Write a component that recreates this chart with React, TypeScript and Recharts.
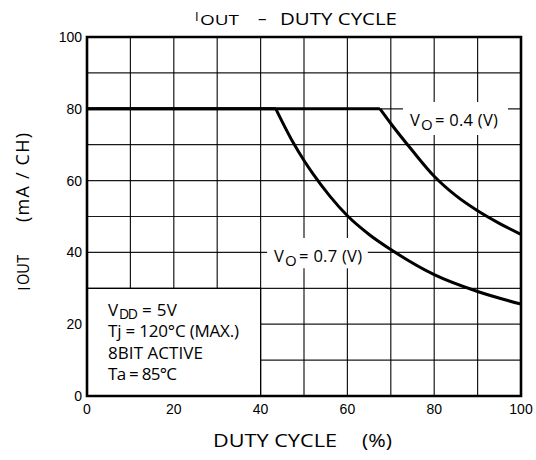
import React from "react";
import {
  LineChart,
  Line,
  XAxis,
  YAxis,
  CartesianGrid,
  ReferenceArea,
} from "recharts";

// Duty cycle (%) vs IOUT (mA/CH)
const vo04Points = [
  { duty: 0, iout: 80 },
  { duty: 67.5, iout: 80 },
  { duty: 70, iout: 75.9 },
  { duty: 75, iout: 68.3 },
  { duty: 80, iout: 61.2 },
  { duty: 85, iout: 55.8 },
  { duty: 90, iout: 51.6 },
  { duty: 95, iout: 48.1 },
  { duty: 100, iout: 45 },
];
const vo07Points = [
  { duty: 0, iout: 80 },
  { duty: 43.5, iout: 80 },
  { duty: 47.5, iout: 70.6 },
  { duty: 50, iout: 65.6 },
  { duty: 52, iout: 62 },
  { duty: 56, iout: 55.6 },
  { duty: 60, iout: 50.2 },
  { duty: 65, iout: 45 },
  { duty: 70, iout: 40.8 },
  { duty: 80, iout: 33.8 },
  { duty: 90, iout: 29.1 },
  { duty: 100, iout: 25.6 },
];
const dutyTicks = [0, 20, 40, 60, 80, 100];
const ioutTicks = [0, 20, 40, 60, 80, 100];
const gridValues = [0, 10, 20, 30, 40, 50, 60, 70, 80, 90, 100];
const conditionLines = ["V", "DD", "= 5V", "Tj = 120°C  (MAX.)", "8BIT  ACTIVE", "Ta = 85°C"];
const curveLabels = ["0.4", "0.7"];

const FONT = "'Open Sans', 'Noto Sans', sans-serif";
const TICK_FONT = "'Liberation Sans', Arial, sans-serif";

const W = 536;
const H = 460;

const voLabel = (value: string) => (props: any) => {
  const vb = props.viewBox || {};
  const x0 = vb.x + 7;
  const y0 = vb.y + 24;
  return (
    <g fontFamily={FONT} fill="#000" style={{ whiteSpace: "pre" }}>
      <text x={x0} y={y0} fontSize={16.5}>V</text>
      <text x={x0 + 11} y={y0 + 4} fontSize={15}>O</text>
      <text x={x0 + 25} y={y0} fontSize={16.5} textLength={63} lengthAdjust="spacing">
        {`= ${value}  (V)`}
      </text>
    </g>
  );
};

const conditionLabel = (props: any) => {
  const vb = props.viewBox || {};
  const x0 = vb.x + 21;
  const y0 = vb.y + 28;
  return (
    <g fontFamily={FONT} fill="#000" style={{ whiteSpace: "pre" }}>
      <text x={x0} y={y0} fontSize={17}>{conditionLines[0]}</text>
      <text x={x0 + 11} y={y0 + 3} fontSize={14} textLength={19} lengthAdjust="spacing">
        {conditionLines[1]}
      </text>
      <text x={x0 + 34} y={y0} fontSize={17} textLength={35} lengthAdjust="spacing">
        {conditionLines[2]}
      </text>
      <text x={x0} y={y0 + 21} fontSize={17} textLength={131} lengthAdjust="spacing">
        {conditionLines[3]}
      </text>
      <text x={x0} y={y0 + 43} fontSize={17} textLength={95} lengthAdjust="spacing">
        {conditionLines[4]}
      </text>
      <text x={x0} y={y0 + 64} fontSize={17} textLength={69} lengthAdjust="spacing">
        {conditionLines[5]}
      </text>
    </g>
  );
};

export default function App() {
  return (
    <div
      style={{
        position: "fixed",
        left: 0,
        top: 0,
        width: W,
        height: H,
        background: "#fff",
      }}
    >
      <LineChart
        width={W}
        height={H}
        margin={{ top: 37, right: 15, bottom: 34, left: 47 }}
      >
        <CartesianGrid
          horizontalValues={gridValues}
          verticalValues={gridValues}
          stroke="#000"
          strokeWidth={1.2}
          strokeOpacity={0.9}
        />
        <XAxis
          type="number"
          dataKey="duty"
          domain={[0, 100]}
          ticks={dutyTicks}
          axisLine={false}
          tickLine={false}
          height={30}
          tick={{ fill: "#000", fontSize: 14, fontFamily: TICK_FONT }}
          allowDataOverflow
        />
        <YAxis
          type="number"
          dataKey="iout"
          domain={[0, 100]}
          ticks={ioutTicks}
          axisLine={false}
          tickLine={false}
          tickSize={3}
          width={40}
          tick={{ fill: "#000", fontSize: 14, fontFamily: TICK_FONT }}
          allowDataOverflow
        />
        <ReferenceArea
          x1={0}
          x2={40}
          y1={0}
          y2={30}
          fill="#fff"
          fillOpacity={1}
          stroke="#000"
          strokeWidth={1.2}
          label={conditionLabel}
        />
        <ReferenceArea
          x1={72.8}
          x2={97}
          y1={72.7}
          y2={81.9}
          fill="#fff"
          fillOpacity={1}
          stroke="none"
          label={voLabel(curveLabels[0])}
        />
        <ReferenceArea
          x1={41.5}
          x2={64.7}
          y1={35.6}
          y2={44}
          fill="#fff"
          fillOpacity={1}
          stroke="none"
          label={voLabel(curveLabels[1])}
        />
        <ReferenceArea
          x1={0}
          x2={100}
          y1={0}
          y2={100}
          fill="none"
          stroke="#000"
          strokeWidth={2.6}
        />
        <Line
          data={vo04Points.slice(0, 2)}
          dataKey="iout"
          type="linear"
          stroke="#000"
          strokeWidth={3}
          dot={false}
          isAnimationActive={false}
        />
        <Line
          data={vo04Points.slice(1)}
          dataKey="iout"
          type="monotone"
          stroke="#000"
          strokeWidth={3}
          dot={false}
          isAnimationActive={false}
        />
        <Line
          data={vo07Points.slice(0, 2)}
          dataKey="iout"
          type="linear"
          stroke="#000"
          strokeWidth={3}
          dot={false}
          isAnimationActive={false}
        />
        <Line
          data={vo07Points.slice(1)}
          dataKey="iout"
          type="monotone"
          stroke="#000"
          strokeWidth={3}
          dot={false}
          isAnimationActive={false}
        />
      </LineChart>
      <svg
        width={W}
        height={H}
        style={{ position: "absolute", left: 0, top: 0, pointerEvents: "none" }}
      >
        <g fontFamily={FONT} fill="#000" style={{ whiteSpace: "pre" }}>
          <text x={195} y={21} fontSize={13}>I</text>
          <text x={200} y={25} fontSize={15} textLength={39} lengthAdjust="spacingAndGlyphs">OUT</text>
          <text x={258} y={24} fontSize={17}>–</text>
          <text x={280} y={25} fontSize={17} textLength={117} lengthAdjust="spacingAndGlyphs">
            DUTY CYCLE
          </text>

          <text x={213} y={447} fontSize={17.5} textLength={124} lengthAdjust="spacingAndGlyphs">
            DUTY CYCLE
          </text>
          <text x={362} y={447} fontSize={17.5} textLength={30} lengthAdjust="spacingAndGlyphs">
            (%)
          </text>

          <text transform="translate(30 291) rotate(-90)" fontSize={17}>I</text>
          <text
            transform="translate(28.5 285) rotate(-90)"
            fontSize={16}
            textLength={30}
            lengthAdjust="spacingAndGlyphs"
          >
            OUT
          </text>
          <text
            transform="translate(28.5 222) rotate(-90)"
            fontSize={18}
            textLength={89}
            lengthAdjust="spacing"
          >
            (mA / CH)
          </text>
        </g>
      </svg>
    </div>
  );
}
